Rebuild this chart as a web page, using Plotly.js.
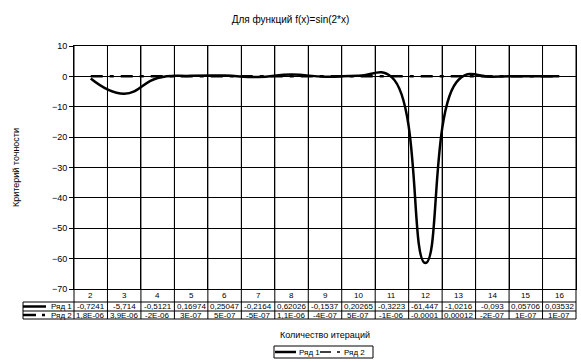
<!DOCTYPE html>
<html>
<head>
<meta charset="utf-8">
<script src="https://cdn.plot.ly/plotly-3.0.1.min.js"></script>
<style>html,body{margin:0;padding:0;background:#fff}#chart{width:581px;height:362px}</style>
</head>
<body>
<div id="chart"></div>
<script>
// ---- data ----
var categories = [2, 3, 4, 5, 6, 7, 8, 9, 10, 11, 12, 13, 14, 15, 16];
var series1 = [-0.7241, -5.714, -0.5121, 0.16974, 0.25047, -0.2164, 0.62026, -0.1537, 0.20265, -0.3223, -61.447, -1.0216, -0.093, 0.05706, 0.03532];
var series2 = [1.8e-6, 3.9e-6, -2e-6, 3e-7, 5e-7, -5e-7, 1.1e-6, -4e-7, 5e-7, -1e-6, -0.0001, 0.00012, -2e-7, 1e-7, 1e-7];
var series1Labels = ["-0,7241", "-5,714", "-0,5121", "0,16974", "0,25047", "-0,2164", "0,62026", "-0,1537", "0,20265", "-0,3223", "-61,447", "-1,0216", "-0,093", "0,05706", "0,03532"];
var series2Labels = ["1,8E-06", "3,9E-06", "-2E-06", "3E-07", "5E-07", "-5E-07", "1,1E-06", "-4E-07", "5E-07", "-1E-06", "-0,0001", "0,00012", "-2E-07", "1E-07", "1E-07"];
var seriesNames = ["Ряд 1", "Ряд 2"];

// ---- geometry ----
var W = 581, H = 362;
var M = {l: 74, r: 5, t: 46, b: 73};
var PW = W - M.l - M.r, PH = H - M.t - M.b;
var xr = [categories[0] - 0.5, categories[categories.length - 1] + 0.5];
function pxX(p) { return (p - M.l) / PW; }          // pixel -> paper x
function pxY(p) { return (M.t + PH - p) / PH; }     // pixel -> paper y
function dX(v) { return (v - xr[0]) / (xr[1] - xr[0]); }

var FONT = 'Arial, "Liberation Sans", sans-serif';
var dash2 = '12px,7px,4px,7px';

var traces = [
  {x: categories, y: series1, name: seriesNames[0], type: 'scatter', mode: 'lines',
   line: {color: '#000', width: 2.5, shape: 'spline', smoothing: 1.3}, showlegend: false},
  {x: categories, y: series2, name: seriesNames[1], type: 'scatter', mode: 'lines',
   line: {color: '#000', width: 2.5, dash: dash2}, showlegend: false}
];

var shapes = [];
var annotations = [];
var line = {color: '#000', width: 1};

var yR1 = pxY(302), yR2 = pxY(311), yBot = pxY(319);
var xTabL = pxX(23);

// vertical table lines (cell boundaries)
for (var i = 0; i <= categories.length; i++) {
  var b = (i < categories.length ? categories[i] - 0.5 : categories[i - 1] + 0.5);
  shapes.push({type: 'line', xref: 'paper', yref: 'paper', x0: dX(b), x1: dX(b), y0: 1, y1: yBot, line: line});
}
shapes.push({type: 'line', xref: 'paper', yref: 'paper', x0: xTabL, x1: xTabL, y0: yR1, y1: yBot, line: line});
[yR1, yR2, yBot].forEach(function (yy) {
  shapes.push({type: 'line', xref: 'paper', yref: 'paper', x0: xTabL, x1: 1, y0: yy, y1: yy, line: line});
});

// table legend keys
var yRow1 = pxY(306.5), yRow2 = pxY(315);
shapes.push({type: 'line', xref: 'paper', yref: 'paper', x0: pxX(23), x1: pxX(46), y0: yRow1, y1: yRow1, line: {color: '#000', width: 2.5}});
shapes.push({type: 'line', xref: 'paper', yref: 'paper', x0: pxX(23), x1: pxX(36), y0: yRow2, y1: yRow2, line: {color: '#000', width: 2.5}});
shapes.push({type: 'line', xref: 'paper', yref: 'paper', x0: pxX(42), x1: pxX(45), y0: yRow2, y1: yRow2, line: {color: '#000', width: 2.5}});

annotations.push({xref: 'paper', yref: 'paper', x: pxX(49), y: yRow1, xanchor: 'left', yanchor: 'middle', text: seriesNames[0], showarrow: false, font: {family: FONT, size: 8, color: '#000'}});
annotations.push({xref: 'paper', yref: 'paper', x: pxX(49), y: yRow2, xanchor: 'left', yanchor: 'middle', text: seriesNames[1], showarrow: false, font: {family: FONT, size: 8, color: '#000'}});

// table cells
var yCat = pxY(295.5);
categories.forEach(function (c, k) {
  annotations.push({xref: 'x', yref: 'paper', x: c, y: yCat, text: String(c), showarrow: false, xanchor: 'center', yanchor: 'middle', font: {family: FONT, size: 8, color: '#000'}});
  annotations.push({xref: 'x', yref: 'paper', x: c, y: yRow1, text: series1Labels[k], showarrow: false, xanchor: 'center', yanchor: 'middle', font: {family: FONT, size: 8, color: '#000'}});
  annotations.push({xref: 'x', yref: 'paper', x: c, y: yRow2, text: series2Labels[k], showarrow: false, xanchor: 'center', yanchor: 'middle', font: {family: FONT, size: 8, color: '#000'}});
});

// bottom legend
var lgT = pxY(346), lgB = pxY(358), lgM = pxY(352);
shapes.push({type: 'rect', xref: 'paper', yref: 'paper', x0: pxX(274), x1: pxX(373), y0: lgT, y1: lgB, line: line, fillcolor: 'rgba(0,0,0,0)'});
shapes.push({type: 'line', xref: 'paper', yref: 'paper', x0: pxX(275), x1: pxX(296), y0: lgM, y1: lgM, line: {color: '#000', width: 2.5}});
shapes.push({type: 'line', xref: 'paper', yref: 'paper', x0: pxX(320), x1: pxX(331), y0: lgM, y1: lgM, line: {color: '#000', width: 1.5}});
shapes.push({type: 'line', xref: 'paper', yref: 'paper', x0: pxX(337), x1: pxX(340), y0: lgM, y1: lgM, line: {color: '#000', width: 1.5}});
annotations.push({xref: 'paper', yref: 'paper', x: pxX(297), y: lgM, xanchor: 'left', yanchor: 'middle', text: seriesNames[0], showarrow: false, font: {family: FONT, size: 8, color: '#000'}});
annotations.push({xref: 'paper', yref: 'paper', x: pxX(342), y: lgM, xanchor: 'left', yanchor: 'middle', text: seriesNames[1], showarrow: false, font: {family: FONT, size: 8, color: '#000'}});

var layout = {
  width: W, height: H,
  margin: M,
  paper_bgcolor: '#fff', plot_bgcolor: '#fff',
  font: {family: FONT, size: 9, color: '#000'},
  showlegend: false,
  title: {text: 'Для функций f(x)=sin(2*x)', x: 0.5, xref: 'container', y: 1 - 19 / H, yref: 'container', yanchor: 'middle', font: {family: FONT, size: 10, color: '#000'}},
  xaxis: {
    range: xr, tickmode: 'linear', tick0: xr[0], dtick: 1,
    showticklabels: false, ticks: '', showgrid: true, gridcolor: '#000', gridwidth: 1,
    showline: true, linecolor: '#000', linewidth: 1, mirror: true, zeroline: false,
    title: {text: 'Количество итераций', standoff: 42, font: {family: FONT, size: 9, color: '#000'}},
    automargin: true
  },
  yaxis: {
    range: [-70, 10], tickmode: 'linear', tick0: 0, dtick: 10,
    ticks: 'outside', ticklen: 4, tickcolor: '#000', tickwidth: 1,
    showgrid: true, gridcolor: '#000', gridwidth: 1,
    zeroline: true, zerolinecolor: '#000', zerolinewidth: 1,
    showline: true, linecolor: '#000', linewidth: 1, mirror: true,
    tickfont: {family: FONT, size: 9, color: '#000'},
    title: {text: 'Критерий точности', standoff: 30, font: {family: FONT, size: 9, color: '#000'}},
    automargin: true
  },
  shapes: shapes,
  annotations: annotations
};

Plotly.newPlot('chart', traces, layout, {staticPlot: true, displayModeBar: false});
</script>
</body>
</html>
